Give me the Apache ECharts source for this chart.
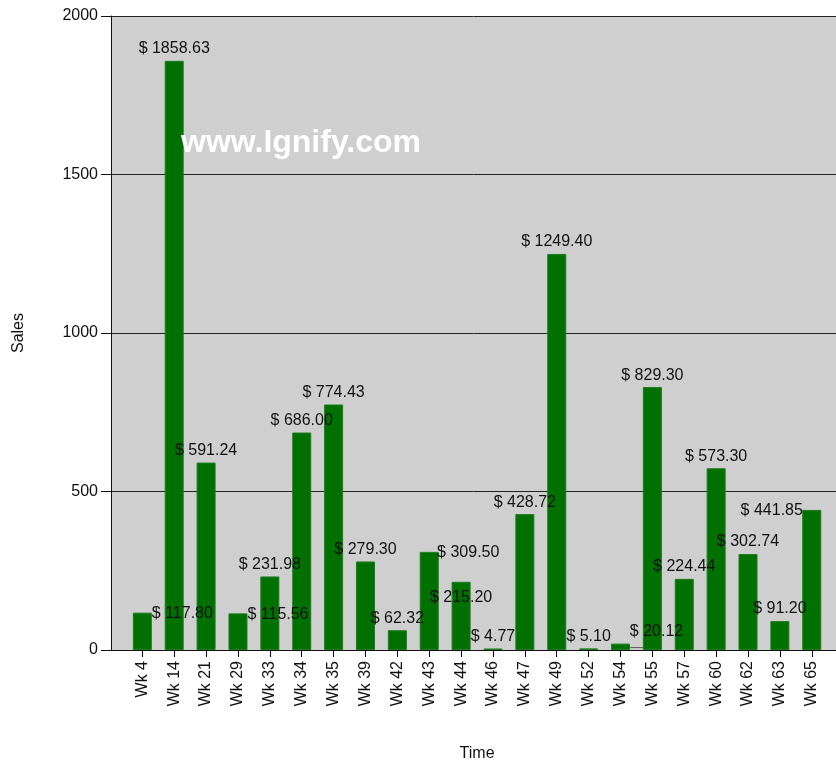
<!DOCTYPE html>
<html>
<head>
<meta charset="utf-8">
<script src="https://cdn.jsdelivr.net/npm/echarts@6/dist/echarts.min.js"></script>
<style>
html,body{margin:0;padding:0;background:#fff;}
#chart{width:836px;height:761px;}
</style>
</head>
<body>
<div id="chart"></div>
<script>
const categories = ['Wk 4','Wk 14','Wk 21','Wk 29','Wk 33','Wk 34','Wk 35','Wk 39','Wk 42','Wk 43','Wk 44','Wk 46','Wk 47','Wk 49','Wk 52','Wk 54','Wk 55','Wk 57','Wk 60','Wk 62','Wk 63','Wk 65'];
const sales = [117.80,1858.63,591.24,115.56,231.98,686.00,774.43,279.30,62.32,309.50,215.20,4.77,428.72,1249.40,5.10,20.12,829.30,224.44,573.30,302.74,91.20,441.85];
const yTicks = [0,500,1000,1500,2000];

// label placement tweaks (reference chart moved some labels to avoid overlap)
const labelShift = {
  'Wk 4':[40,13], 'Wk 29':[40,13], 'Wk 43':[39,13],
  'Wk 44':[0,28], 'Wk 65':[-40,13], 'Wk 54':[36,0]
};

const FONT = 'Liberation Sans';
const chart = echarts.init(document.getElementById('chart'));

const barData = sales.map((v,i)=>{
  const s = labelShift[categories[i]];
  const item = {value:v};
  if (s) {
    item.label = {offset:s};
    if (categories[i]==='Wk 54') item.labelLine = {show:true, lineStyle:{color:'#555',width:1}};
  }
  return item;
});

// plot geometry
const catLeft = 126.4, catRight = 8.3;
const catW = (836 - catLeft - catRight) / categories.length;

chart.setOption({
  animation:false,
  backgroundColor:'#fff',
  grid:[
    {left:111, right:0, top:16, bottom:111, show:true, backgroundColor:'#cfcfcf', borderWidth:0, containLabel:false, outerBoundsMode:'none'},
    {left:catLeft, right:catRight, top:16, bottom:111, containLabel:false, outerBoundsMode:'none'},
    // tick grid: spans first to last category centre
    {left:catLeft + catW/2, right:catRight + catW/2, top:16, bottom:111, containLabel:false, outerBoundsMode:'none'}
  ],
  xAxis:[
    {gridIndex:0, type:'category', data:[''], axisLine:{show:true,lineStyle:{color:'#111'}}, axisTick:{show:false}, axisLabel:{show:false}},
    {gridIndex:1, type:'category', data:categories,
      axisLine:{show:false},
      axisTick:{show:false},
      axisLabel:{rotate:90, margin:11, fontFamily:FONT, fontSize:16, color:'#111', interval:0},
      name:'Time', nameLocation:'middle', nameGap:96,
      nameTextStyle:{fontFamily:FONT, fontSize:16, color:'#111'}
    },
    {gridIndex:2, type:'value', min:0, max:categories.length-1, interval:1,
      axisLine:{show:false, onZero:false},
      axisTick:{show:true, length:7, lineStyle:{color:'#000', width:1}},
      axisLabel:{show:false}, splitLine:{show:false}
    }
  ],
  yAxis:[
    {gridIndex:0, type:'value', min:yTicks[0], max:yTicks[yTicks.length-1], interval:500,
      axisLine:{show:true,lineStyle:{color:'#111'}},
      axisTick:{show:true, length:10, lineStyle:{color:'#111'}},
      axisLabel:{margin:13, fontFamily:FONT, fontSize:16, color:'#111', formatter:v=>String(v)},
      splitLine:{show:true, lineStyle:{color:'#222', width:1}},
      name:'Sales', nameLocation:'middle', nameGap:84, nameRotate:90,
      nameTextStyle:{fontFamily:FONT, fontSize:16, color:'#111'}
    },
    {gridIndex:1, type:'value', min:yTicks[0], max:yTicks[yTicks.length-1], interval:500,
      axisLine:{show:false}, axisTick:{show:false}, axisLabel:{show:false}, splitLine:{show:false}},
    {gridIndex:2, type:'value', min:0, max:1, show:false, splitLine:{show:false}}
  ],
  series:[{
    type:'bar', xAxisIndex:1, yAxisIndex:1,
    data:barData, barWidth:19,
    itemStyle:{color:'#007000', borderColor:'#1b7d1b', borderWidth:1},
    label:{show:true, position:'top', distance:4, fontFamily:FONT, fontSize:16, color:'#111',
      formatter:p=>'$ '+Number(p.value).toFixed(2)},
    labelLine:{show:false}
  }],
  graphic:[{
    type:'text', x:181, y:143, z:100,
    style:{text:'www.Ignify.com', fill:'#fff', font:'bold 32px "Liberation Sans"', verticalAlign:'middle'}
  }]
});
</script>
</body>
</html>
